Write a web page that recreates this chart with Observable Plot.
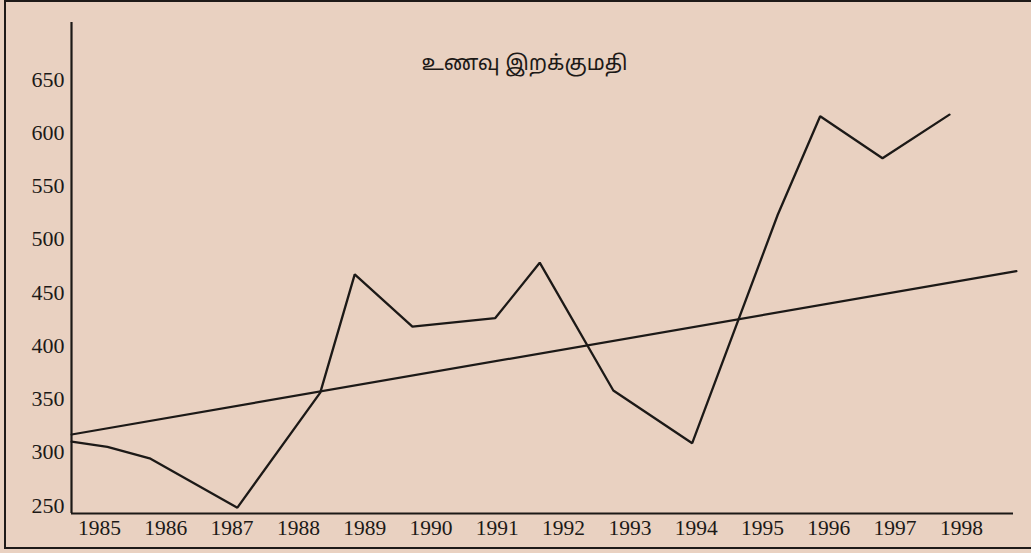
<!DOCTYPE html>
<html>
<head>
<meta charset="utf-8">
<script src="https://cdn.jsdelivr.net/npm/d3@7"></script>
<script src="https://cdn.jsdelivr.net/npm/@observablehq/plot@0.6"></script>
<style>
  html, body { margin: 0; padding: 0; background: #e9d1c1; }
  #wrap { position: relative; width: 1031px; height: 553px; background: #e9d1c1; overflow: hidden; }
  #frame { position: absolute; left: 4px; top: 0px; width: 1040px; height: 549px;
           border: 2px solid #1e1a18; border-right: none; box-sizing: border-box; pointer-events: none; }
  #wrap svg { position: absolute; left: 0; top: 0; }
</style>
</head>
<body>
<div id="wrap"><div id="frame"></div></div>
<script>
// Chart title
const title = "உணவு இறக்குமதி";

// Tick labels
const yearTicks = [1985, 1986, 1987, 1988, 1989, 1990, 1991, 1992, 1993, 1994, 1995, 1996, 1997, 1998];
const valueTicks = [250, 300, 350, 400, 450, 500, 550, 600, 650];

// Series: vertices of the drawn line (positions along the year axis as drawn)
const seriesX = [1984.58, 1985.12, 1985.77, 1987.08, 1988.33, 1988.85, 1989.72, 1990.97, 1991.64, 1992.75, 1993.94, 1995.23, 1995.87, 1996.81, 1997.82];
const seriesY = [310, 305, 294, 248, 356, 467, 418, 426, 478, 358, 308.5, 523, 615.5, 576, 617];

// Trend line end points
const trendX = [1984.58, 1998.83];
const trendY = [316.7, 470];

const series = seriesX.map((x, i) => ({x, y: seriesY[i]}));
const trend = trendX.map((x, i) => ({x, y: trendY[i]}));

const xDomain = [1984.578, 1998.786];
const yDomain = [242.5, 703.5];
const ink = "#1c1917";

const chart = Plot.plot({
  width: 1031,
  height: 553,
  marginLeft: 71,
  marginRight: 18,
  marginTop: 22,
  marginBottom: 40,
  style: {background: "transparent", fontFamily: "'Liberation Serif', 'DejaVu Serif', serif", color: ink},
  x: {domain: xDomain, axis: null, label: null},
  y: {domain: yDomain, axis: null, label: null},
  marks: [
    Plot.axisY(valueTicks, {tickSize: 0, tickPadding: 7, fontSize: 22, fill: ink, label: null, tickFormat: d => String(d)}),
    Plot.axisX(yearTicks, {tickSize: 0, tickPadding: 6, fontSize: 21.5, fill: ink, label: null, tickFormat: d => String(d)}),
    Plot.ruleX([xDomain[0]], {stroke: ink, strokeWidth: 2.2}),
    Plot.ruleY([yDomain[0]], {stroke: ink, strokeWidth: 2.2}),
    Plot.line(trend, {x: "x", y: "y", stroke: ink, strokeWidth: 2.2}),
    Plot.line(series, {x: "x", y: "y", stroke: ink, strokeWidth: 2.3, strokeLinejoin: "miter"}),
    Plot.text([title], {frameAnchor: "top", dx: -18, dy: 41, lineAnchor: "middle", text: d => d,
      fontSize: 21, fill: ink,
      fontFamily: "'Noto Sans Tamil', 'Noto Serif Tamil', 'Lohit Tamil', 'Noto Sans', sans-serif"})
  ]
});
document.getElementById("wrap").appendChild(chart);
</script>
</body>
</html>
